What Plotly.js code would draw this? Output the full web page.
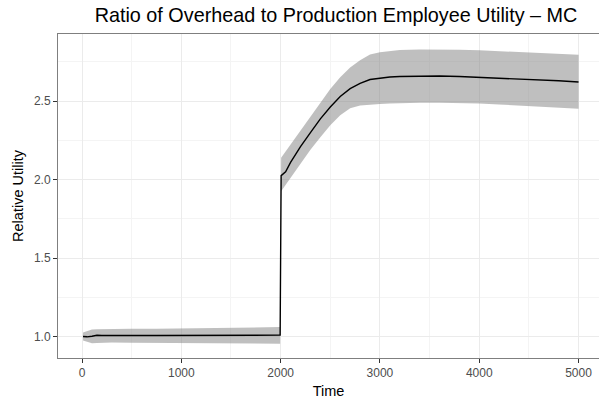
<!DOCTYPE html>
<html>
<head>
<meta charset="utf-8">
<script src="https://cdn.plot.ly/plotly-3.0.1.min.js"></script>
<style>html,body{margin:0;padding:0;background:#fff;}#chart{width:599px;height:401px;}</style>
</head>
<body>
<div id="chart"></div>
<script>
const time  = [10, 50, 100, 150, 200, 300, 500, 750, 1000, 1250, 1500, 1750, 1995, 2005, 2050, 2100, 2200, 2300, 2400, 2500, 2600, 2700, 2800, 2900, 3000, 3100, 3200, 3400, 3600, 3800, 4000, 4200, 4400, 4600, 4800, 5000];
const meanU = [1.000, 0.998, 1.002, 1.008, 1.006, 1.005, 1.006, 1.006, 1.007, 1.007, 1.008, 1.008, 1.009, 2.025, 2.050, 2.110, 2.210, 2.300, 2.387, 2.463, 2.530, 2.580, 2.614, 2.638, 2.647, 2.654, 2.657, 2.660, 2.660, 2.657, 2.652, 2.647, 2.642, 2.636, 2.630, 2.622];
const upperU = [1.025, 1.035, 1.045, 1.046, 1.047, 1.048, 1.049, 1.050, 1.052, 1.054, 1.056, 1.058, 1.060, 2.140, 2.180, 2.225, 2.317, 2.407, 2.495, 2.577, 2.652, 2.715, 2.760, 2.798, 2.812, 2.821, 2.826, 2.830, 2.830, 2.828, 2.824, 2.818, 2.811, 2.806, 2.801, 2.796];
const lowerU = [0.975, 0.965, 0.957, 0.958, 0.960, 0.961, 0.960, 0.959, 0.958, 0.957, 0.956, 0.955, 0.954, 1.925, 1.965, 2.012, 2.105, 2.190, 2.270, 2.347, 2.410, 2.455, 2.472, 2.479, 2.482, 2.485, 2.487, 2.490, 2.490, 2.488, 2.485, 2.479, 2.473, 2.466, 2.459, 2.452];
const xTicks = [0, 1000, 2000, 3000, 4000, 5000];
const yTicks = [1.0, 1.5, 2.0, 2.5];
const yTickText = ['1.0', '1.5', '2.0', '2.5'];

const traces = [
  {x: time, y: lowerU, mode: 'lines', line: {width: 0, color: 'rgba(0,0,0,0)'}, hoverinfo: 'skip', showlegend: false},
  {x: time, y: upperU, mode: 'lines', fill: 'tonexty', fillcolor: 'rgba(128,128,128,0.5)', line: {width: 0, color: 'rgba(0,0,0,0)'}, hoverinfo: 'skip', showlegend: false},
  {x: time, y: meanU, mode: 'lines', line: {color: '#000000', width: 1.4}, showlegend: false}
];

const axisCommon = {
  showline: true, mirror: true, linecolor: '#7f7f7f', linewidth: 1,
  showgrid: true, gridcolor: '#ebebeb', gridwidth: 1,
  zeroline: false,
  ticks: 'outside', ticklen: 4, tickcolor: '#333333', tickwidth: 1,
  tickfont: {family: 'Liberation Sans, Arial, sans-serif', size: 12, color: '#4d4d4d'}
};

const layout = {
  width: 599, height: 401,
  margin: {l: 58, r: 0, t: 34, b: 43},
  paper_bgcolor: '#ffffff', plot_bgcolor: '#ffffff',
  title: {text: 'Ratio of Overhead to Production Employee Utility \u2013 MC', x: 0.561, xanchor: 'center', y: 0.98, yanchor: 'top',
          font: {family: 'Liberation Sans, Arial, sans-serif', size: 19.8, color: '#000000'}},
  xaxis: Object.assign({}, axisCommon, {
    range: [-242, 5206], tickvals: xTicks, ticktext: xTicks.map(String),
    minor: {dtick: 500, tick0: 500, showgrid: true, gridcolor: '#f4f4f4', gridwidth: 1, ticks: ''},
    title: {text: 'Time', standoff: 6, font: {family: 'Liberation Sans, Arial, sans-serif', size: 14.5, color: '#000000'}}
  }),
  yaxis: Object.assign({}, axisCommon, {
    range: [0.863, 2.928], tickvals: yTicks, ticktext: yTickText,
    minor: {dtick: 0.25, tick0: 0.75, showgrid: true, gridcolor: '#f4f4f4', gridwidth: 1, ticks: ''},
    title: {text: 'Relative Utility', standoff: 6, font: {family: 'Liberation Sans, Arial, sans-serif', size: 14.5, color: '#000000'}}
  })
};

Plotly.newPlot('chart', traces, layout, {displayModeBar: false, staticPlot: true});
</script>
</body>
</html>
